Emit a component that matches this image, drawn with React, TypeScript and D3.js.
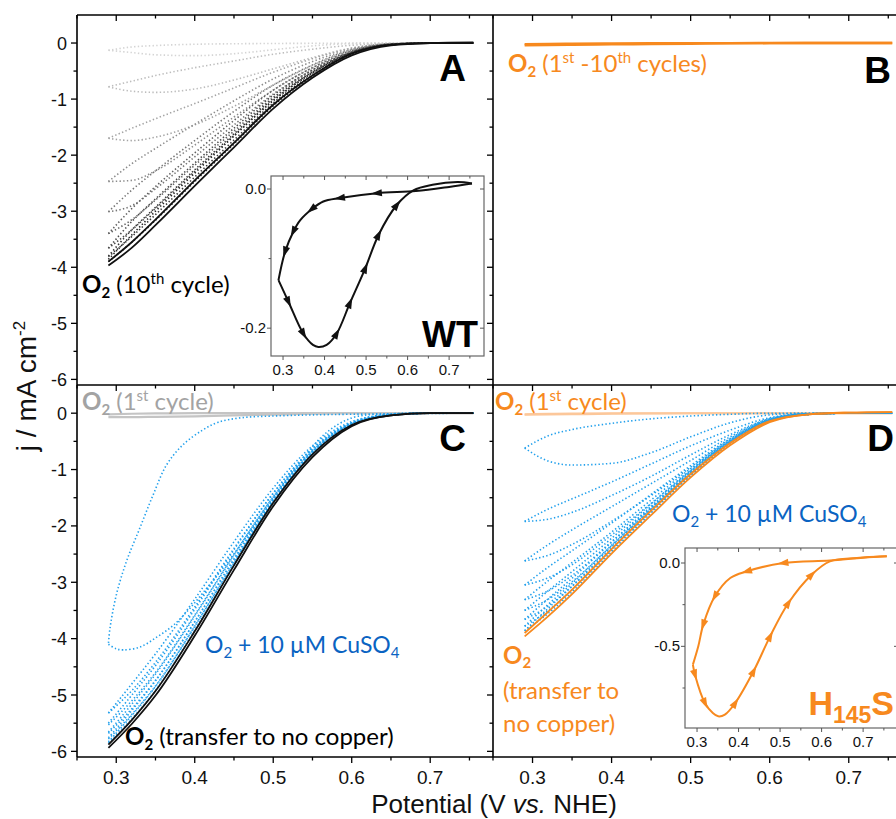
import * as d3 from "d3";

type Pt = [number, number];

// potential grid (V vs NHE) used by the cycle traces
const E_GRID = [0.29, 0.32, 0.35, 0.4, 0.45, 0.5, 0.55, 0.6, 0.65, 0.7, 0.755];

// A: WT in O2, cycles 1-9 (dotted), forward and return sweeps
const wtFwd = [
  [-0.13, -0.07, -0.045, -0.022, -0.013, -0.008, -0.005, -0.002, 0, 0, 0],
  [-0.78, -0.68, -0.58, -0.44, -0.32, -0.2, -0.11, -0.04, -0.01, 0, 0],
  [-1.7, -1.52, -1.35, -1.08, -0.8, -0.52, -0.28, -0.09, -0.01, 0, 0],
  [-2.47, -2.15, -1.88, -1.45, -1.03, -0.64, -0.33, -0.11, -0.02, 0, 0],
  [-3.01, -2.62, -2.28, -1.74, -1.22, -0.75, -0.39, -0.12, -0.02, 0, 0],
  [-3.4, -2.95, -2.56, -1.96, -1.38, -0.84, -0.44, -0.14, -0.02, 0, 0],
  [-3.66, -3.18, -2.78, -2.14, -1.52, -0.93, -0.48, -0.16, -0.02, 0, 0],
  [-3.8, -3.33, -2.93, -2.26, -1.62, -0.99, -0.52, -0.17, -0.03, 0, 0],
  [-3.86, -3.42, -3.0, -2.32, -1.66, -1.03, -0.53, -0.17, -0.03, 0, 0],
];
const wtRev = [
  [-0.13, -0.17, -0.21, -0.225, -0.19, -0.12, -0.05, -0.01, 0, 0, 0],
  [-0.78, -0.86, -0.88, -0.82, -0.66, -0.46, -0.26, -0.09, -0.02, 0, 0],
  [-1.7, -1.74, -1.68, -1.46, -1.13, -0.75, -0.4, -0.13, -0.02, 0, 0],
  [-2.47, -2.45, -2.28, -1.82, -1.32, -0.84, -0.44, -0.15, -0.02, 0, 0],
  [-3.01, -2.9, -2.6, -2.03, -1.46, -0.91, -0.48, -0.16, -0.02, 0, 0],
  [-3.4, -3.15, -2.8, -2.18, -1.57, -0.97, -0.51, -0.17, -0.03, 0, 0],
  [-3.66, -3.33, -2.95, -2.29, -1.65, -1.02, -0.53, -0.18, -0.03, 0, 0],
  [-3.81, -3.45, -3.06, -2.39, -1.73, -1.07, -0.56, -0.19, -0.03, 0, 0],
  [-3.9, -3.55, -3.16, -2.47, -1.8, -1.12, -0.59, -0.2, -0.03, 0, 0],
];
const wtGrays = ["#d4d4d4", "#bdbdbd", "#a4a4a4", "#8c8c8c", "#767676", "#606060", "#4a4a4a", "#363636", "#262626"];
const wt10Fwd = [-3.9, -3.55, -3.15, -2.45, -1.78, -1.1, -0.58, -0.19, -0.03, 0, 0];
const wt10Rev = [-3.97, -3.65, -3.25, -2.55, -1.86, -1.17, -0.62, -0.22, -0.04, 0, 0.01];

// A inset: WT 1st cycle (E, j)
const wtInsetFwd: Pt[] = [
  [0.755, 0.008], [0.7, 0.003], [0.62, -0.003], [0.526, -0.006], [0.437, -0.013], [0.397, -0.018],
  [0.369, -0.029], [0.341, -0.045], [0.325, -0.061], [0.305, -0.09], [0.289, -0.131],
];
const wtInsetRev: Pt[] = [
  [0.289, -0.131], [0.313, -0.162], [0.349, -0.208], [0.372, -0.224], [0.385, -0.227], [0.405, -0.224],
  [0.429, -0.208], [0.461, -0.164], [0.498, -0.114], [0.53, -0.066], [0.574, -0.023], [0.614, -0.002],
  [0.66, 0.006], [0.72, 0.01], [0.755, 0.008],
];
const wtInsetFwdArrows = [3, 4, 6, 8, 9];
const wtInsetRevArrows = [1, 2, 6, 7, 8, 9, 10];

// B: H145S in O2, cycles 1-10
const bFwd = [-0.02, -0.015, -0.01, -0.006, -0.004, -0.002, -0.001, 0, 0, 0, 0];
const bRev = [-0.04, -0.035, -0.03, -0.024, -0.018, -0.012, -0.006, -0.002, 0, 0, 0];

// C: WT 1st cycle, then + 10 uM CuSO4, then transfer to no copper
const cFirstFwd = [-0.02, -0.01, -0.005, 0, 0, 0, 0, 0, 0, 0, 0];
const cFirstRev = [-0.07, -0.07, -0.065, -0.055, -0.04, -0.025, -0.01, 0, 0, 0, 0];
const cCu1Fwd: Pt[] = [
  [0.755, 0], [0.65, -0.01], [0.55, -0.03], [0.5, -0.05], [0.46, -0.08], [0.43, -0.16], [0.41, -0.3],
  [0.385, -0.56], [0.364, -0.92], [0.347, -1.45], [0.33, -2.04], [0.313, -2.63], [0.3, -3.23],
  [0.292, -3.82], [0.29, -4.1],
];
const cCu1Rev: Pt[] = [
  [0.29, -4.1], [0.3, -4.18], [0.309, -4.2], [0.33, -4.15], [0.352, -3.97], [0.373, -3.76], [0.394, -3.46],
  [0.415, -3.11], [0.436, -2.75], [0.458, -2.34], [0.479, -1.92], [0.5, -1.51], [0.521, -1.1],
  [0.543, -0.71], [0.564, -0.39], [0.585, -0.18], [0.606, -0.06], [0.65, -0.01], [0.755, 0],
];
const cCuFwd = [
  [-5.32, -4.8, -4.27, -3.3, -2.28, -1.33, -0.58, -0.15, -0.02, 0, 0],
  [-5.5, -5.0, -4.48, -3.48, -2.42, -1.42, -0.63, -0.17, -0.03, 0, 0],
  [-5.66, -5.16, -4.63, -3.6, -2.52, -1.48, -0.66, -0.18, -0.03, 0, 0],
  [-5.76, -5.27, -4.75, -3.7, -2.59, -1.53, -0.69, -0.19, -0.03, 0, 0],
  [-5.83, -5.36, -4.85, -3.78, -2.65, -1.57, -0.71, -0.2, -0.03, 0, 0],
];
const cCuRev = [
  [-5.32, -4.92, -4.42, -3.44, -2.4, -1.42, -0.63, -0.17, -0.03, 0, 0],
  [-5.53, -5.1, -4.6, -3.58, -2.51, -1.49, -0.67, -0.18, -0.03, 0, 0],
  [-5.68, -5.24, -4.74, -3.7, -2.59, -1.54, -0.69, -0.19, -0.03, 0, 0],
  [-5.78, -5.34, -4.84, -3.78, -2.65, -1.57, -0.71, -0.2, -0.03, 0, 0],
  [-5.85, -5.42, -4.92, -3.85, -2.7, -1.6, -0.73, -0.21, -0.04, 0, 0],
];
const cNoCuFwd = [-5.88, -5.44, -4.93, -3.87, -2.7, -1.59, -0.73, -0.21, -0.04, 0, 0];
const cNoCuRev = [-5.94, -5.51, -5.01, -3.95, -2.78, -1.65, -0.78, -0.23, -0.04, 0, 0];

// D: H145S 1st cycle, + 10 uM CuSO4, transfer to no copper
const dFirstFwd = [-0.02, -0.01, -0.005, 0, 0, 0, 0, 0, 0, 0, 0];
const dFirstRev = [-0.03, -0.025, -0.02, -0.012, -0.006, -0.003, 0, 0, 0, 0, 0];
const dCuFwd = [
  [-0.62, -0.4, -0.29, -0.18, -0.1, -0.05, -0.02, 0, 0, 0, 0],
  [-1.92, -1.7, -1.52, -1.22, -0.9, -0.58, -0.3, -0.08, -0.01, 0, 0],
  [-2.62, -2.33, -2.07, -1.66, -1.25, -0.84, -0.42, -0.1, -0.01, 0, 0],
  [-3.05, -2.73, -2.44, -1.95, -1.44, -0.93, -0.45, -0.11, -0.01, 0, 0],
  [-3.31, -2.97, -2.65, -2.11, -1.54, -0.98, -0.47, -0.12, -0.02, 0, 0],
  [-3.5, -3.15, -2.81, -2.22, -1.61, -1.01, -0.49, -0.12, -0.02, 0, 0],
  [-3.66, -3.29, -2.93, -2.29, -1.65, -1.03, -0.5, -0.13, -0.02, 0, 0],
  [-3.78, -3.39, -3.02, -2.34, -1.68, -1.05, -0.51, -0.13, -0.02, 0, 0],
  [-3.86, -3.46, -3.07, -2.37, -1.7, -1.06, -0.52, -0.13, -0.02, 0, 0],
];
const dCuRev = [
  [-0.62, -0.85, -0.92, -0.89, -0.7, -0.42, -0.17, -0.03, 0, 0, 0],
  [-1.92, -1.88, -1.76, -1.46, -1.12, -0.74, -0.38, -0.1, -0.01, 0, 0],
  [-2.62, -2.52, -2.33, -1.92, -1.46, -0.96, -0.46, -0.11, -0.01, 0, 0],
  [-3.05, -2.92, -2.69, -2.16, -1.6, -1.02, -0.48, -0.12, -0.01, 0, 0],
  [-3.31, -3.15, -2.88, -2.28, -1.67, -1.05, -0.5, -0.13, -0.02, 0, 0],
  [-3.5, -3.3, -2.99, -2.35, -1.7, -1.07, -0.51, -0.13, -0.02, 0, 0],
  [-3.66, -3.42, -3.07, -2.4, -1.73, -1.09, -0.52, -0.14, -0.02, 0, 0],
  [-3.78, -3.5, -3.13, -2.43, -1.75, -1.1, -0.53, -0.14, -0.02, 0, 0],
  [-3.86, -3.55, -3.17, -2.46, -1.77, -1.11, -0.54, -0.15, -0.02, 0, 0],
];
const dNoCuFwd = [-3.9, -3.52, -3.13, -2.41, -1.73, -1.08, -0.53, -0.14, -0.02, 0.01, 0.02];
const dNoCuRev = [-3.96, -3.6, -3.21, -2.49, -1.81, -1.14, -0.57, -0.16, -0.02, 0.01, 0.02];

// D inset: H145S cycle (E, j)
const hInsetFwd: Pt[] = [
  [0.757, 0.04], [0.7, 0.032], [0.62, 0.015], [0.508, 0.0], [0.42, -0.05], [0.38, -0.09],
  [0.343, -0.2], [0.315, -0.37], [0.303, -0.5], [0.29, -0.61],
];
const hInsetRev: Pt[] = [
  [0.29, -0.61], [0.295, -0.67], [0.319, -0.84], [0.338, -0.9], [0.351, -0.92], [0.367, -0.91],
  [0.392, -0.84], [0.436, -0.65], [0.476, -0.44], [0.52, -0.24], [0.576, -0.07], [0.62, 0.01],
  [0.685, 0.03], [0.757, 0.04],
];
const hInsetFwdArrows = [3, 4, 6, 7];
const hInsetRevArrows = [1, 2, 6, 7, 8, 9, 10];

// ticks
const X_MAJOR = [0.3, 0.4, 0.5, 0.6, 0.7];
const X_MINOR = [0.25, 0.35, 0.45, 0.55, 0.65, 0.75];
const Y_MAJOR = [0, -1, -2, -3, -4, -5, -6];
const Y_MINOR = [-0.5, -1.5, -2.5, -3.5, -4.5, -5.5];
const IN_X_MINOR = [0.35, 0.45, 0.55, 0.65, 0.75];
const WT_Y_MAJOR = [0, -0.2];
const WT_Y_MINOR = [-0.1];
const H_Y_MAJOR = [0, -0.5];
const H_Y_MINOR = [-0.25, -0.75];

const BLUE = "#22a0ec";
const TEXT_BLUE = "#0a63c2";
const ORANGE = "#f7891e";
const ANNOT = "Lato, 'Open Sans', sans-serif";
const AX = "'Liberation Sans', Arial, sans-serif";

const xL = d3.scaleLinear().domain([0.25, 0.78]).range([77, 493]);
const xR = d3.scaleLinear().domain([0.25, 0.78]).range([493, 912]);
const yTop = d3.scaleLinear().domain([-6.1, 0.5]).range([385, 15]);
const yBot = d3.scaleLinear().domain([-6.1, 0.5]).range([757, 385]);
const xWT = d3.scaleLinear().domain([0.271, 0.784]).range([271, 484]);
const yWT = d3.scaleLinear().domain([-0.24, 0.0187]).range([356, 176]);
const xH = d3.scaleLinear().domain([0.271, 0.784]).range([685, 898]);
const yH = d3.scaleLinear().domain([-0.99, 0.09]).range([728, 548]);

const grid = (js: number[]): Pt[] => E_GRID.map((e, i) => [e, js[i]] as Pt);

const pathOf = (x: any, y: any, pts: Pt[], smooth = false) =>
  d3
    .line<Pt>()
    .x((d) => x(d[0]))
    .y((d) => y(d[1]))
    .curve(smooth ? d3.curveCatmullRom.alpha(0.5) : d3.curveMonotoneX)(pts) || "";

const DOT = { strokeDasharray: "1.4 2.3", strokeWidth: 1.6, fill: "none" };

function Arrows({ pts, idx, x, y, color }: any) {
  return (
    <g>
      {idx.map((i: number) => {
        const x0 = x(pts[i - 1][0]), y0 = y(pts[i - 1][1]);
        const x1 = x(pts[i + 1][0]), y1 = y(pts[i + 1][1]);
        const ang = (Math.atan2(y1 - y0, x1 - x0) * 180) / Math.PI;
        return (
          <path
            key={i}
            d="M6,0 L-5,-3.6 L-5,3.6 Z"
            fill={color}
            transform={`translate(${x(pts[i][0])},${y(pts[i][1])}) rotate(${ang})`}
          />
        );
      })}
    </g>
  );
}

function Inset({ x, y, yMajor, yMinor, fwd, rev, fa, ra, color, yFmt }: any) {
  const [x0, x1] = x.range();
  const [y1, y0] = y.range();
  return (
    <g>
      <rect x={x0} y={y0} width={x1 - x0} height={y1 - y0} fill="#fff" stroke="#666" strokeWidth={1.2} />
      {X_MAJOR.map((v) => (
        <g key={"m" + v}>
          <line x1={x(v)} x2={x(v)} y1={y0} y2={y0 + 4} stroke="#555" />
          <line x1={x(v)} x2={x(v)} y1={y1} y2={y1 + 4} stroke="#555" />
          <text x={x(v)} y={y1 + 19} fontFamily={AX} fontSize={15} textAnchor="middle" fill="#111">
            {v.toFixed(1)}
          </text>
        </g>
      ))}
      {IN_X_MINOR.map((v) => (
        <g key={"n" + v}>
          <line x1={x(v)} x2={x(v)} y1={y0} y2={y0 + 2.5} stroke="#555" />
          <line x1={x(v)} x2={x(v)} y1={y1} y2={y1 + 2.5} stroke="#555" />
        </g>
      ))}
      {yMajor.map((v: number) => (
        <g key={"y" + v}>
          <line x1={x0 - 4} x2={x0} y1={y(v)} y2={y(v)} stroke="#555" />
          <line x1={x1 - 4} x2={x1} y1={y(v)} y2={y(v)} stroke="#555" />
          <text x={x0 - 5} y={y(v) + 5} fontFamily={AX} fontSize={15} textAnchor="end" fill="#111">
            {yFmt(v)}
          </text>
        </g>
      ))}
      {yMinor.map((v: number) => (
        <line key={"z" + v} x1={x0 - 2.5} x2={x0} y1={y(v)} y2={y(v)} stroke="#555" />
      ))}
      <path d={pathOf(x, y, fwd, true)} stroke={color} strokeWidth={2} fill="none" />
      <path d={pathOf(x, y, rev, true)} stroke={color} strokeWidth={2} fill="none" />
      <Arrows pts={fwd} idx={fa} x={x} y={y} color={color} />
      <Arrows pts={rev} idx={ra} x={x} y={y} color={color} />
    </g>
  );
}

function PanelTicks({ x, yScale, top, bottom, left }: any) {
  return (
    <g stroke="#000" strokeWidth={1.3}>
      {X_MAJOR.map((v) => (
        <g key={"a" + v}>
          <line x1={x(v)} x2={x(v)} y1={top} y2={top + 6} />
          {bottom && <line x1={x(v)} x2={x(v)} y1={bottom} y2={bottom + 6} />}
        </g>
      ))}
      {X_MINOR.map((v) => (
        <g key={"b" + v}>
          <line x1={x(v)} x2={x(v)} y1={top} y2={top + 3.5} />
          {bottom && <line x1={x(v)} x2={x(v)} y1={bottom} y2={bottom + 3.5} />}
        </g>
      ))}
      {left &&
        Y_MAJOR.map((v) => <line key={"c" + v} x1={71} x2={77} y1={yScale(v)} y2={yScale(v)} />)}
      {left &&
        Y_MINOR.map((v) => <line key={"d" + v} x1={73.5} x2={77} y1={yScale(v)} y2={yScale(v)} />)}
      {left &&
        Y_MAJOR.map((v) => <line key={"e" + v} x1={487} x2={493} y1={yScale(v)} y2={yScale(v)} />)}
      {left &&
        Y_MINOR.map((v) => <line key={"f" + v} x1={489.5} x2={493} y1={yScale(v)} y2={yScale(v)} />)}
    </g>
  );
}

function YLabels({ yScale }: any) {
  return (
    <g>
      {Y_MAJOR.map((v) => (
        <text key={v} x={67} y={yScale(v) + 6.5} fontFamily={AX} fontSize={18} textAnchor="end" fill="#111">
          {v === 0 ? "0" : "-" + Math.abs(v)}
        </text>
      ))}
    </g>
  );
}

const Sub = ({ children, bold, size = 15, shift = 5 }: any) => (
  <tspan fontWeight={bold ? "bold" : "normal"} fontSize={size} dy={shift}>
    {children}
  </tspan>
);

export default function App() {
  return (
    <svg width={896} height={819} style={{ position: "absolute", left: 0, top: 0, background: "#fff" }}>
      <rect width={896} height={819} fill="#fff" />

      {/* ---------- Panel A ---------- */}
      {wtFwd.map((c, i) => (
        <g key={"wt" + i}>
          <path d={pathOf(xL, yTop, grid(c))} stroke={wtGrays[i]} {...DOT} />
          <path d={pathOf(xL, yTop, grid(wtRev[i]))} stroke={wtGrays[i]} {...DOT} />
        </g>
      ))}
      <path d={pathOf(xL, yTop, grid(wt10Fwd))} stroke="#111" strokeWidth={1.8} fill="none" />
      <path d={pathOf(xL, yTop, grid(wt10Rev))} stroke="#111" strokeWidth={1.8} fill="none" />

      {/* ---------- Panel B ---------- */}
      <path d={pathOf(xR, yTop, grid(bFwd))} stroke={ORANGE} strokeWidth={2.4} fill="none" />
      <path d={pathOf(xR, yTop, grid(bRev))} stroke={ORANGE} strokeWidth={2.4} fill="none" />

      {/* ---------- Panel C ---------- */}
      <path d={pathOf(xL, yBot, grid(cFirstFwd))} stroke="#c4c4c4" strokeWidth={2.2} fill="none" />
      <path d={pathOf(xL, yBot, grid(cFirstRev))} stroke="#c4c4c4" strokeWidth={2.2} fill="none" />
      <path d={pathOf(xL, yBot, cCu1Fwd, true)} stroke={BLUE} {...DOT} />
      <path d={pathOf(xL, yBot, cCu1Rev, true)} stroke={BLUE} {...DOT} />
      {cCuFwd.map((c, i) => (
        <g key={"c" + i}>
          <path d={pathOf(xL, yBot, grid(c))} stroke={BLUE} {...DOT} />
          <path d={pathOf(xL, yBot, grid(cCuRev[i]))} stroke={BLUE} {...DOT} />
        </g>
      ))}
      <path d={pathOf(xL, yBot, grid(cNoCuFwd))} stroke="#111" strokeWidth={1.8} fill="none" />
      <path d={pathOf(xL, yBot, grid(cNoCuRev))} stroke="#111" strokeWidth={1.8} fill="none" />

      {/* ---------- Panel D ---------- */}
      <path d={pathOf(xR, yBot, grid(dFirstFwd))} stroke="#fcc79a" strokeWidth={2} fill="none" />
      <path d={pathOf(xR, yBot, grid(dFirstRev))} stroke="#fcc79a" strokeWidth={2} fill="none" />
      {dCuFwd.map((c, i) => (
        <g key={"d" + i}>
          <path d={pathOf(xR, yBot, grid(c))} stroke={BLUE} {...DOT} />
          <path d={pathOf(xR, yBot, grid(dCuRev[i]))} stroke={BLUE} {...DOT} />
        </g>
      ))}
      <path d={pathOf(xR, yBot, grid(dNoCuFwd))} stroke={ORANGE} strokeWidth={1.8} fill="none" />
      <path d={pathOf(xR, yBot, grid(dNoCuRev))} stroke={ORANGE} strokeWidth={1.8} fill="none" />

      {/* ---------- frame & ticks ---------- */}
      <g stroke="#000" strokeWidth={1.6} fill="none">
        <line x1={77} x2={896} y1={15} y2={15} />
        <line x1={77} x2={896} y1={385} y2={385} />
        <line x1={77} x2={896} y1={757} y2={757} />
        <line x1={77} x2={77} y1={15} y2={757} />
        <line x1={493} x2={493} y1={15} y2={757} />
      </g>
      <PanelTicks x={xL} yScale={yTop} top={15} left />
      <PanelTicks x={xR} yScale={yTop} top={15} />
      <PanelTicks x={xL} yScale={yBot} top={385} bottom={757} left />
      <PanelTicks x={xR} yScale={yBot} top={385} bottom={757} />
      <YLabels yScale={yTop} />
      <YLabels yScale={yBot} />
      {X_MAJOR.map((v) => (
        <g key={"xl" + v}>
          <text x={xL(v)} y={784} fontFamily={AX} fontSize={19} textAnchor="middle" fill="#111">
            {v.toFixed(1)}
          </text>
          <text x={xR(v)} y={784} fontFamily={AX} fontSize={19} textAnchor="middle" fill="#111">
            {v.toFixed(1)}
          </text>
        </g>
      ))}

      {/* axis titles */}
      <text x={494} y={813} fontFamily={AX} fontSize={26} textAnchor="middle" fill="#111">
        Potential (V <tspan fontStyle="italic">vs.</tspan> NHE)
      </text>
      <text transform="translate(36,386) rotate(-90)" fontFamily={AX} fontSize={28} textAnchor="middle" fill="#111">
        j / mA cm<tspan fontSize={17} dy={-11}>-2</tspan>
      </text>

      {/* ---------- insets ---------- */}
      <Inset x={xWT} y={yWT} yMajor={WT_Y_MAJOR} yMinor={WT_Y_MINOR} fwd={wtInsetFwd} rev={wtInsetRev}
        fa={wtInsetFwdArrows} ra={wtInsetRevArrows} color="#111" yFmt={(v: number) => (v === 0 ? "0.0" : v.toFixed(1))} />
      <Inset x={xH} y={yH} yMajor={H_Y_MAJOR} yMinor={H_Y_MINOR} fwd={hInsetFwd} rev={hInsetRev}
        fa={hInsetFwdArrows} ra={hInsetRevArrows} color={ORANGE} yFmt={(v: number) => (v === 0 ? "0.0" : v.toFixed(1))} />

      {/* ---------- panel letters ---------- */}
      <g fontFamily={AX} fontWeight="bold" fontSize={37} textAnchor="end" fill="#000">
        <text x={466} y={81}>A</text>
        <text x={891} y={83}>B</text>
        <text x={466} y={451}>C</text>
        <text x={894} y={451}>D</text>
        <text x={478} y={347} fontSize={36}>WT</text>
      </g>
      <text x={894} y={715} fontFamily={AX} fontWeight="bold" fontSize={34} fill={ORANGE} textAnchor="end">
        H<tspan fontSize={23} dy={8}>145</tspan><tspan dy={-8}>S</tspan>
      </text>

      {/* ---------- annotations ---------- */}
      <g fontFamily={ANNOT} fontSize={24}>
        <text x={82} y={293} fill="#000">
          <tspan fontWeight="bold">O</tspan><Sub bold>2</Sub>
          <tspan dy={-5}> (10</tspan><tspan fontSize={15} dy={-9}>th</tspan><tspan dy={9}> cycle)</tspan>
        </text>
        <text x={508} y={72} fill={ORANGE}>
          <tspan fontWeight="bold">O</tspan><Sub bold>2</Sub>
          <tspan dy={-5}> (1</tspan><tspan fontSize={15} dy={-9}>st</tspan>
          <tspan dy={9}> -10</tspan><tspan fontSize={15} dy={-9}>th</tspan><tspan dy={9}> cycles)</tspan>
        </text>
        <text x={82} y={410} fill="#a3a3a3">
          <tspan fontWeight="bold">O</tspan><Sub bold>2</Sub>
          <tspan dy={-5}> (1</tspan><tspan fontSize={15} dy={-9}>st</tspan><tspan dy={9}> cycle)</tspan>
        </text>
        <text x={205} y={653} fill={TEXT_BLUE} fontSize={23}>
          O<Sub>2</Sub><tspan dy={-5}> + 10 µM CuSO</tspan><Sub>4</Sub>
        </text>
        <text x={125} y={745} fill="#000">
          <tspan fontWeight="bold">O</tspan><Sub bold>2</Sub>
          <tspan dy={-5}> (transfer to no copper)</tspan>
        </text>
        <text x={495} y={410} fill={ORANGE}>
          <tspan fontWeight="bold">O</tspan><Sub bold>2</Sub>
          <tspan dy={-5}> (1</tspan><tspan fontSize={15} dy={-9}>st</tspan><tspan dy={9}> cycle)</tspan>
        </text>
        <text x={672} y={522} fill={TEXT_BLUE} fontSize={23}>
          O<Sub>2</Sub><tspan dy={-5}> + 10 µM CuSO</tspan><Sub>4</Sub>
        </text>
        <text x={503} y={664} fill={ORANGE}>
          <tspan fontWeight="bold">O</tspan><Sub bold shift={4}>2</Sub>
        </text>
        <text x={503} y={699} fill={ORANGE}>(transfer to</text>
        <text x={503} y={732} fill={ORANGE}>no copper)</text>
      </g>
    </svg>
  );
}
